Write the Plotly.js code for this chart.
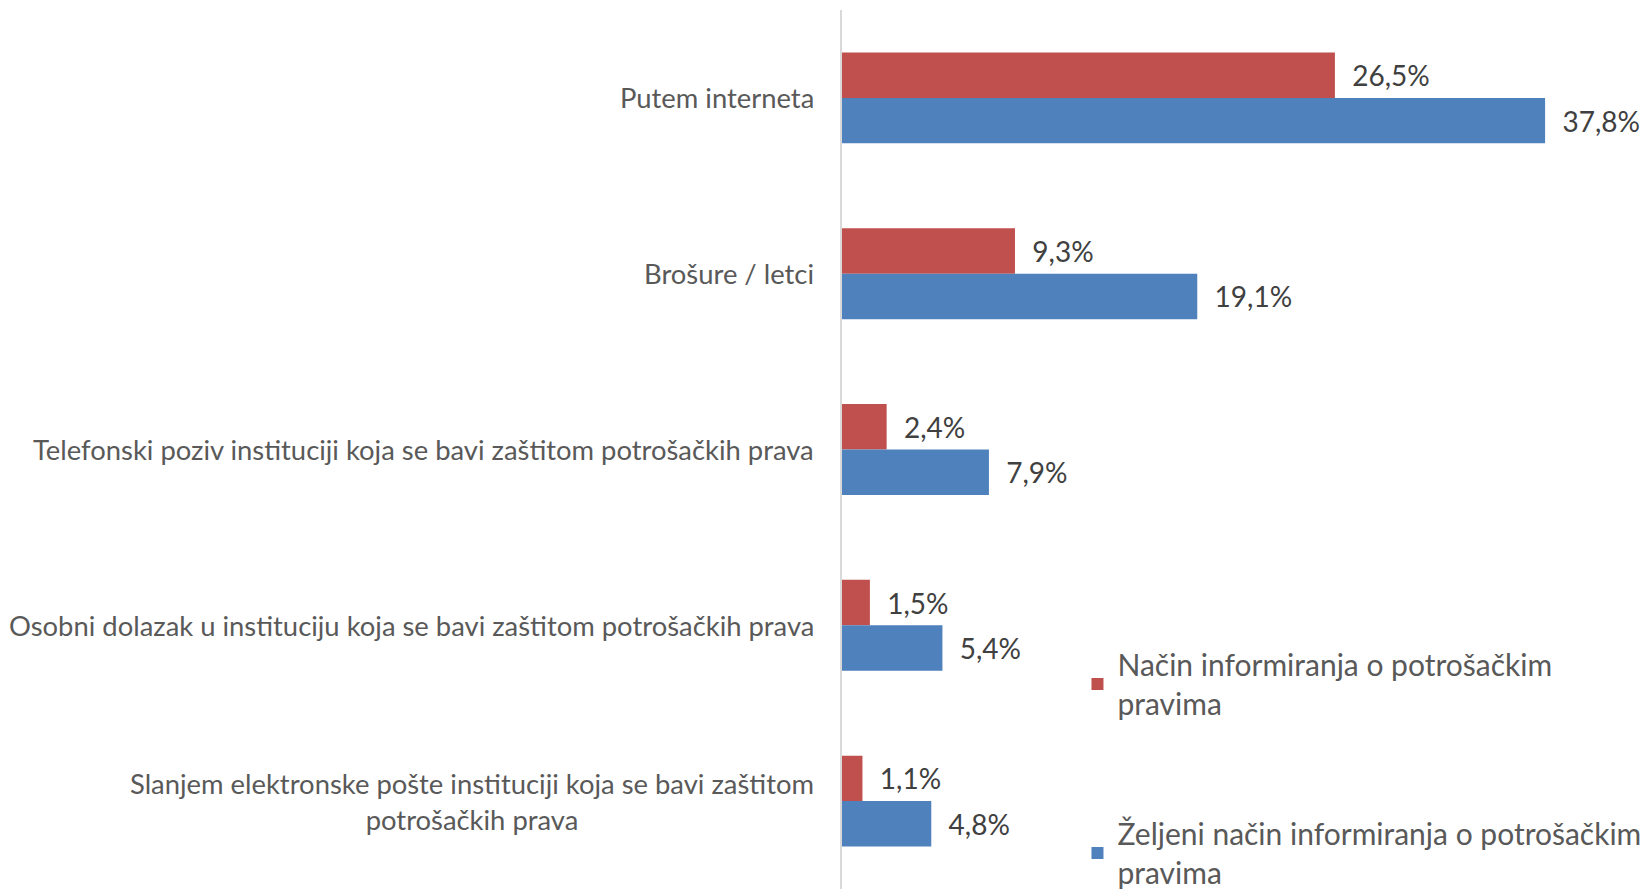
<!DOCTYPE html>
<html><head><meta charset="utf-8">
<script src="https://cdn.plot.ly/plotly-3.0.1.min.js"></script>
<style>html,body{margin:0;padding:0;background:#fff;}#chart{width:1645px;height:889px;}</style>
</head><body><div id="chart"></div>
<script>
const categories = [
  "Putem interneta",
  "Brošure / letci",
  "Telefonski poziv instituciji koja se bavi zaštitom potrošačkih prava",
  "Osobni dolazak u instituciju koja se bavi zaštitom potrošačkih prava",
  "Slanjem elektronske pošte instituciji koja se bavi zaštitom<br>potrošačkih prava"
];
const seriesNames = [
  "Način informiranja o potrošačkim<br>pravima",
  "Željeni način informiranja o potrošačkim<br>pravima"
];
const actualValues = [26.5, 9.3, 2.4, 1.5, 1.1];
const desiredValues = [37.8, 19.1, 7.9, 5.4, 4.8];

const fmt = v => v.toFixed(1).replace('.', ',') + '%';
const FONT = 'Lato, "Open Sans", sans-serif';

function barTrace(name, vals, color, group) {
  return {
    type: 'bar', orientation: 'h', name: name, legendgroup: group,
    y: categories, x: vals,
    marker: {color: color, line: {width: 0}},
    text: vals.map(v => '\u00a0\u00a0' + fmt(v)),
    textposition: 'outside', cliponaxis: false, constraintext: 'none',
    textfont: {family: FONT, size: 28, color: '#404040'},
    hoverinfo: 'skip'
  };
}

const data = [
  barTrace(seriesNames[0], actualValues, '#C0504D', 'a'),
  barTrace(seriesNames[1], desiredValues, '#4F81BD', 'b')
];

const annotations = categories.map(c => ({
  xref: 'paper', yref: 'y', x: -0.035, y: c, text: c,
  xanchor: 'right', yanchor: 'middle', align: 'center', showarrow: false,
  font: {family: FONT, size: 27.4, color: '#595959'}
}));

const layout = {
  width: 1645, height: 889,
  margin: {l: 842, r: 59, t: 10, b: 0, autoexpand: false},
  paper_bgcolor: '#fff', plot_bgcolor: '#fff',
  barmode: 'group', bargap: 0.483, bargroupgap: 0,
  xaxis: {range: [0, 40], showgrid: false, zeroline: false, showticklabels: false, showline: false, fixedrange: true},
  yaxis: {autorange: 'reversed', type: 'category', showticklabels: false, showgrid: false, zeroline: false,
          showline: true, linecolor: '#D9D9D9', linewidth: 2, ticks: ''},
  showlegend: true,
  legend: {x: 0.3165, y: 0.285, xanchor: 'left', yanchor: 'top', traceorder: 'grouped', tracegroupgap: 88,
           font: {family: FONT, size: 30, color: '#595959'}, itemwidth: 30, bgcolor: 'rgba(0,0,0,0)'},
  annotations: annotations
};

Plotly.newPlot('chart', data, layout, {displayModeBar: false, staticPlot: true});
</script></body></html>
